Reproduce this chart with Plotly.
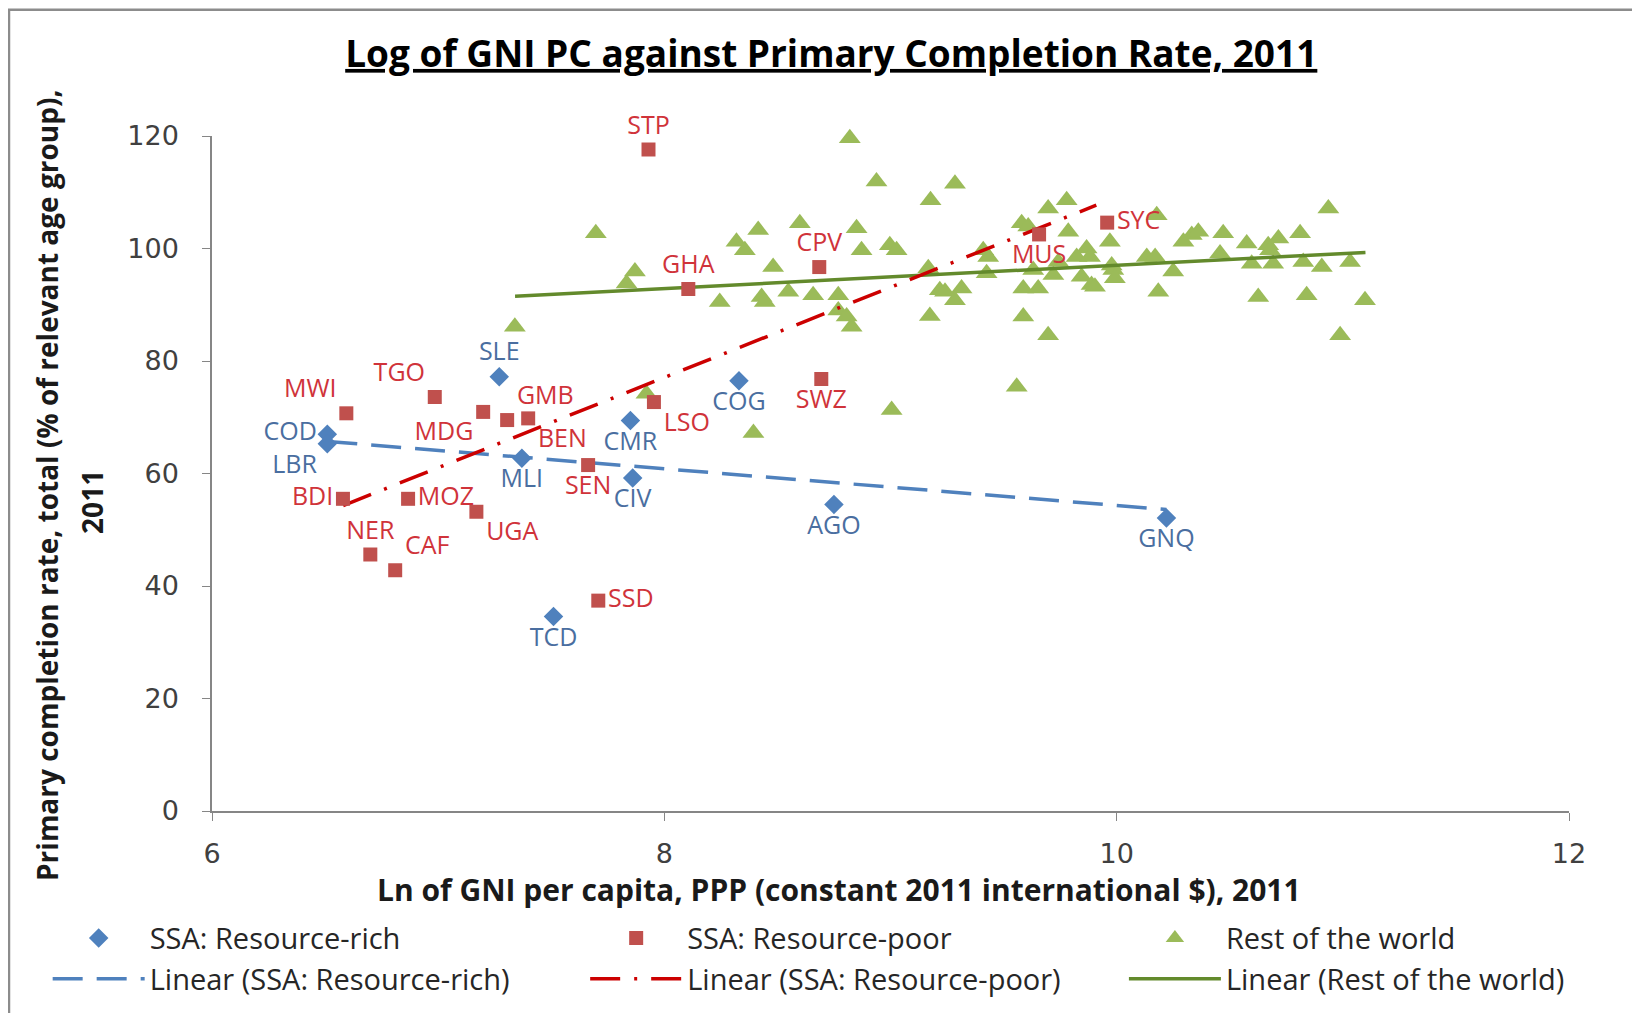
import plotly.graph_objects as go

# SSA resource-rich countries (ln GNI pc PPP, primary completion rate)
rich_codes = ["COD", "LBR", "SLE", "MLI", "CMR", "CIV", "COG", "AGO", "GNQ", "TCD"]
rich_x = [6.51, 6.51, 7.27, 7.37, 7.85, 7.86, 8.33, 8.75, 10.22, 7.51]
rich_y = [67.0, 65.3, 77.2, 62.7, 69.4, 59.2, 76.5, 54.5, 52.1, 34.6]

# SSA resource-poor countries
poor_codes = ["STP", "CPV", "GHA", "SYC", "MUS", "SWZ", "LSO", "MWI", "TGO", "MDG",
              "GMB", "BEN", "SEN", "BDI", "MOZ", "NER", "CAF", "UGA", "SSD"]
poor_x = [7.93, 8.685, 8.106, 9.958, 9.657, 8.694, 7.954, 6.594, 6.985, 7.199,
          7.305, 7.398, 7.663, 6.579, 6.867, 6.70, 6.81, 7.169, 7.708]
poor_y = [117.6, 96.7, 92.8, 104.6, 102.5, 76.8, 72.7, 70.7, 73.6, 70.95,
          69.5, 69.8, 61.5, 55.5, 55.5, 45.6, 42.8, 53.2, 37.4]

# Rest of the world
rest_x = [7.697, 7.870, 7.833, 7.339, 8.820, 8.938, 8.319, 8.356, 8.415, 8.599,
          8.850, 8.872, 8.997, 9.027, 8.481, 8.245, 8.430, 8.444, 8.548, 8.658,
          8.769, 8.769, 8.806, 8.828, 7.921, 8.394, 9.285, 9.177, 9.174, 9.005,
          9.167, 9.218, 9.241, 9.314, 9.285, 9.410, 9.432, 9.425, 9.580, 9.609,
          9.587, 9.653, 9.587, 9.697, 9.558, 9.631, 9.697, 9.779, 9.786, 9.720,
          9.742, 9.823, 9.867, 9.882, 9.845, 9.889, 9.904, 9.970, 9.978, 9.985,
          9.992, 10.177, 10.133, 10.170, 10.250, 10.184, 10.295, 10.332, 10.361, 10.471,
          10.457, 10.575, 10.597, 10.670, 10.678, 10.715, 10.692, 10.626, 10.811, 10.825,
          10.907, 10.840, 10.936, 11.032, 11.098, 10.988]
rest_y = [102.7, 95.9, 93.8, 86.1, 119.6, 111.9, 101.2, 99.7, 103.3, 104.5,
          103.6, 99.7, 100.6, 99.7, 96.7, 90.5, 91.4, 90.5, 92.3, 91.7,
          91.7, 89.0, 87.9, 86.1, 74.2, 67.2, 111.5, 108.6, 88.0, 71.3,
          96.5, 92.6, 92.3, 92.9, 90.8, 99.7, 98.5, 95.6, 104.5, 103.9,
          92.9, 92.9, 87.9, 84.6, 75.4, 96.2, 107.1, 108.6, 103.0, 95.3,
          97.6, 98.5, 100.0, 98.5, 95.0, 93.5, 93.2, 101.2, 97.0, 96.2,
          94.7, 105.9, 98.5, 98.5, 95.9, 92.3, 101.2, 102.4, 103.0, 102.7,
          99.1, 100.9, 97.3, 100.6, 99.7, 101.8, 97.3, 91.4, 102.7, 97.6,
          96.7, 91.7, 107.1, 97.6, 90.8, 84.6]

# linear trend lines, end points
rich_trend_x = [6.51, 10.22]
rich_trend_y = [65.7, 53.6]
poor_trend_x = [6.58, 9.91]
poor_trend_y = [54.3, 107.7]
rest_trend_x = [7.34, 11.10]
rest_trend_y = [91.5, 99.3]

rich_pos = ["middle left", "bottom left", "top center", "bottom center", "bottom center",
            "bottom center", "bottom center", "bottom center", "bottom center", "bottom center"]
poor_pos = ["top center", "top center", "top center", "middle right", "bottom center",
            "bottom center", "bottom right", "top left", "top left", "bottom left",
            "top right", "bottom right", "bottom center", "middle left", "middle right",
            "top center", "top right", "bottom right", "middle right"]

BLUE = "#4f81bd"
RED = "#c0504d"
GREEN = "#9bbb59"
FONT = "Open Sans"
label_font = dict(family=FONT, size=25)

fig = go.Figure()

# markers of the rest of the world go first so the labels sit on top
fig.add_trace(go.Scatter(
    x=rest_x, y=rest_y, mode="markers", cliponaxis=False,
    marker=dict(symbol="triangle-up", size=19, color=GREEN),
    name="Rest of the world", legend="legend3", legendrank=1))

fig.add_trace(go.Scatter(
    x=rest_trend_x, y=rest_trend_y, mode="lines",
    line=dict(color="#638a2c", width=3.5),
    name="Linear (Rest of the world)", legend="legend3", legendrank=2))
fig.add_trace(go.Scatter(
    x=rich_trend_x, y=rich_trend_y, mode="lines",
    line=dict(color=BLUE, width=3.5, dash="30px,14px"),
    name="Linear (SSA: Resource-rich)", legend="legend", legendrank=2))
fig.add_trace(go.Scatter(
    x=poor_trend_x, y=poor_trend_y, mode="lines",
    line=dict(color="#cc0000", width=3.5, dash="30px,14px,3px,14px"),
    name="Linear (SSA: Resource-poor)", legend="legend2", legendrank=2))

fig.add_trace(go.Scatter(
    x=rich_x, y=rich_y, mode="markers+text", text=rich_codes, textposition=rich_pos,
    textfont=dict(label_font, color="#4a6ea0"), cliponaxis=False,
    marker=dict(symbol="diamond", size=15, color=BLUE),
    name="SSA: Resource-rich", legend="legend", legendrank=1))
fig.add_trace(go.Scatter(
    x=poor_x, y=poor_y, mode="markers+text", text=poor_codes, textposition=poor_pos,
    textfont=dict(label_font, color="#d0333a"), cliponaxis=False,
    marker=dict(symbol="square", size=14, color=RED),
    name="SSA: Resource-poor", legend="legend2", legendrank=1))

axis_common = dict(
    showline=True, linecolor="#868686", linewidth=1.5, ticks="outside", ticklen=8,
    tickcolor="#868686", showgrid=False, zeroline=False,
    tickfont=dict(family="DejaVu Sans", size=27, color="#404040"),
)
fig.update_xaxes(axis_common, range=[6, 12], tickvals=[6, 8, 10, 12], ticklabelstandoff=10)
fig.update_yaxes(axis_common, range=[0, 120], dtick=20, ticklabelstandoff=18)

legend_common = dict(orientation="v", yanchor="top", y=-0.1507, xanchor="left",
                     font=dict(family=FONT, size=29, color="#262626"), itemwidth=92,
                     bgcolor="rgba(0,0,0,0)", traceorder="normal", tracegroupgap=0)
fig.update_layout(
    legend=dict(legend_common, x=-0.1211),
    legend2=dict(legend_common, x=0.275),
    legend3=dict(legend_common, x=0.672),
)

title_font = dict(family=FONT, color="#1a1a1a")
fig.update_layout(
    width=1640, height=1013,
    margin=dict(l=204, r=79, t=128, b=210),
    paper_bgcolor="white", plot_bgcolor="white",
    title=dict(text="<u><b>Log of GNI PC against Primary Completion Rate, 2011</b></u>",
               x=0.502, xanchor="center", y=0.9546, yanchor="middle",
               font=dict(family=FONT, size=37, color="#000000")),
    annotations=[
        dict(text="<b>Ln of GNI per capita, PPP (constant 2011 international $), 2011</b>",
             xref="paper", yref="paper", x=0.462, y=-0.1165, xanchor="center", yanchor="middle",
             showarrow=False, font=dict(title_font, size=30)),
        dict(text="<b>Primary completion rate, total (% of relevant age group),</b>",
             xref="paper", yref="paper", x=-0.1216, y=0.483, xanchor="center", yanchor="middle",
             textangle=-90, showarrow=False, font=dict(title_font, size=28)),
        dict(text="<b>2011</b>",
             xref="paper", yref="paper", x=-0.0884, y=0.458, xanchor="center", yanchor="middle",
             textangle=-90, showarrow=False, font=dict(title_font, size=28)),
    ],
    shapes=[dict(type="rect", xref="paper", yref="paper", x0=-0.1496, x1=1.07,
                 y0=-0.34, y1=1.187, line=dict(color="#8c8c8c", width=2.5), layer="below")],
)

fig.write_html("out.html")
